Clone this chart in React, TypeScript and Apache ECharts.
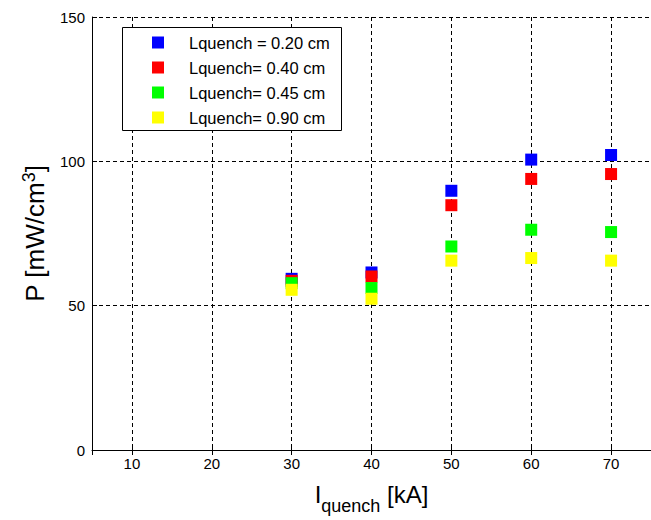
import React, { useEffect, useRef } from "react";
import * as echarts from "echarts";

const seriesNames = [
  "Lquench = 0.20 cm",
  "Lquench= 0.40 cm",
  "Lquench= 0.45 cm",
  "Lquench= 0.90 cm",
];
const seriesColors = ["#0000ff", "#ff0000", "#00ff00", "#ffff00"];
const currents = [30, 40, 50, 60, 70];
const pBlue = [59.3, 61.5, 89.8, 100.6, 102.2];
const pRed = [58.6, 60.1, 84.8, 93.9, 95.6];
const pGreen = [57.8, 56.1, 70.5, 76.3, 75.5];
const pYellow = [55.5, 52.4, 65.6, 66.5, 65.6];
const seriesValues = [pBlue, pRed, pGreen, pYellow];

const FONT = "'Liberation Sans', Arial, Helvetica, sans-serif";

export default function App() {
  const ref = useRef<HTMLDivElement>(null);
  useEffect(() => {
    if (!ref.current) return;
    const chart = echarts.init(ref.current, null, { renderer: "svg" });
    const gridLine = { show: true, lineStyle: { color: "#000", width: 1, type: [4, 3] as any } };
    chart.setOption({
      animation: false,
      backgroundColor: "#fff",
      grid: { left: 92, top: 17, bottom: 68, right: -6, containLabel: false },
      xAxis: [
        {
          type: "value",
          min: 5,
          max: 75,
          splitNumber: 7,
          position: "bottom",
          axisLine: { show: true, onZero: false, lineStyle: { color: "#000", width: 1 } },
          axisTick: { show: true, inside: true, length: 5, lineStyle: { color: "#000" } },
          axisLabel: {
            show: true,
            showMinLabel: false,
            showMaxLabel: false,
            margin: 6,
            color: "#000",
            fontSize: 15,
            fontFamily: FONT,
          },
          splitLine: gridLine,
          name: "{i|I}{sub|quench}{i| [kA]}",
          nameLocation: "middle",
          nameGap: 32,
          nameTextStyle: {
            fontFamily: FONT,
            color: "#000",
            rich: {
              i: { fontSize: 24, fontFamily: FONT, color: "#000", verticalAlign: "bottom", padding: [0, 0, 9, 0] },
              sub: { fontSize: 18, fontFamily: FONT, color: "#000", verticalAlign: "bottom" },
            },
          },
        },
        {
          type: "value",
          min: 5,
          max: 75,
          splitNumber: 7,
          position: "top",
          axisLine: { show: false },
          axisTick: { show: true, inside: true, length: 5, lineStyle: { color: "#000" } },
          axisLabel: { show: false },
          splitLine: { show: false },
        },
      ],
      yAxis: {
        type: "value",
        min: 0,
        max: 150,
        interval: 50,
        axisLine: { show: true, onZero: false, lineStyle: { color: "#000", width: 1 } },
        axisTick: { show: true, inside: true, length: 5, lineStyle: { color: "#000" } },
        axisLabel: { margin: 7, color: "#000", fontSize: 15, fontFamily: FONT },
        splitLine: gridLine,
        name: "P [mW/cm{sup|3}]",
        nameLocation: "middle",
        nameGap: 42,
        nameRotate: 90,
        nameTextStyle: {
          fontSize: 26,
          fontFamily: FONT,
          color: "#000",
          verticalAlign: "bottom",
          rich: {
            sup: { fontSize: 18, fontFamily: FONT, color: "#000", verticalAlign: "bottom", padding: [0, 0, 12, 0] },
          },
        },
      },
      legend: {
        orient: "vertical",
        left: 152,
        top: 34,
        padding: 0,
        itemWidth: 12,
        itemHeight: 12,
        itemGap: 8,
        icon: "rect",
        z: 20,
        data: seriesNames.map((name, si) => ({
          name,
          itemStyle: { color: seriesColors[si], opacity: 1 },
        })),
        textStyle: {
          fontSize: 16.5,
          fontFamily: FONT,
          color: "#000",
          lineHeight: 16,
          padding: [0, 0, 0, 20],
        },
      },
      graphic: [
        {
          type: "rect",
          left: 122,
          top: 27,
          z: 10,
          shape: { x: 0, y: 0, width: 219, height: 103 },
          style: { fill: "#fff", stroke: "#000", lineWidth: 1 },
        },
      ],
      series: seriesNames.map((name, si) => ({
        name,
        type: "scatter",
        symbol: "rect",
        symbolSize: 12,
        itemStyle: { color: seriesColors[si], opacity: 1 },
        data: currents.map((c, i) => [c, seriesValues[si][i]]),
        z: 2 + si,
      })),
    });
    return () => chart.dispose();
  }, []);
  return (
    <div
      ref={ref}
      style={{ position: "absolute", left: 0, top: 0, width: 651, height: 520 }}
    />
  );
}
